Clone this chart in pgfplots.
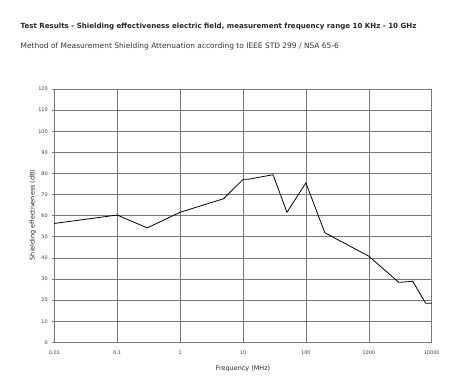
\documentclass[border=0pt]{standalone}
\usepackage{fontspec}
\setmainfont{DejaVu Sans}
\usepackage{pgfplots}
\pgfplotsset{compat=1.18}
\definecolor{gridgray}{RGB}{120,120,120}
\begin{document}
\begin{tikzpicture}[x=1bp,y=1bp]
\useasboundingbox (0,0) rectangle (474,388);
\node[anchor=base west, inner sep=0, font=\fontsize{7.1}{8}\selectfont\bfseries, text=black!85] at (20.5,359.5) {Test Results - Shielding effectiveness electric field, measurement frequency range 10 KHz - 10 GHz};
\node[anchor=base west, inner sep=0, font=\fontsize{7.5}{9}\selectfont, text=black!80] at (20.5,339.5) {Method of Measurement Shielding Attenuation according to IEEE STD 299 / NSA 65-6};
\begin{axis}[
  at={(54.3bp,45.7bp)}, anchor=south west,
  scale only axis, width=377.4bp, height=253.3bp,
  xmode=log, xmin=0.01, xmax=10000, ymin=0, ymax=120,
  ytick={0,10,...,120},
  xtick={0.01,0.1,1,10,100,1000,10000},
  xticklabels={{0,01},{0,1},1,10,100,1000,10000},
  minor xtick={},
  grid=major,
  major grid style={gridgray, line width=0.6bp},
  axis line style={gridgray, line width=0.6bp},
  tick style={gridgray, line width=0.6bp},
  tick align=outside, major tick length=2bp,
  xtick style={draw=none},
  ytick pos=left, xtick pos=bottom,
  /pgf/number format/assume math mode=true,
  ticklabel style={font=\fontsize{5}{6}\selectfont, text=black!75},
  xticklabel style={yshift=-3bp},
  yticklabel style={xshift=-1bp},
  xlabel={Frequency (MHz)},
  ylabel={Shielding effectiveness (dB)},
  label style={font=\fontsize{6.5}{8}\selectfont, text=black!85},
  xlabel style={at={(axis description cs:0.5,-0.106)}, anchor=center},
  ylabel style={at={(axis description cs:-0.057,0.503)}, anchor=center, rotate=0},
]
\addplot[black, line width=0.8bp, mark=none] coordinates {
 (0.01,56.3) (0.1,60.3) (0.3,54.2) (1,61.6) (4.9,68) (10,77.2) (12,77.2)
 (30,79.4) (50,61.6) (100,75.5) (200,51.9) (1000,40.8) (3000,28.4)
 (5000,28.9) (8000,18.5) (10000,18.5)
};
\end{axis}
\end{tikzpicture}
\end{document}
